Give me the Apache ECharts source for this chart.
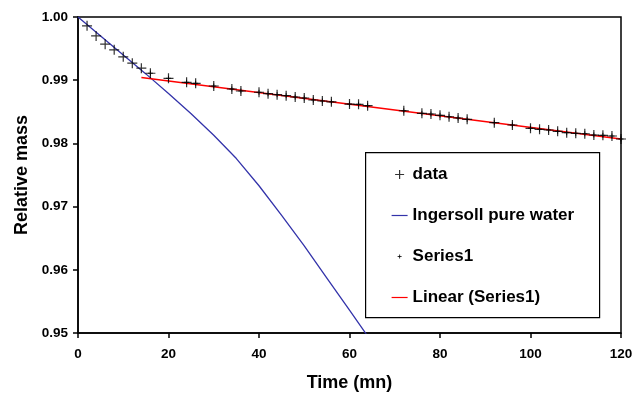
<!DOCTYPE html>
<html>
<head>
<meta charset="utf-8">
<script src="https://cdn.jsdelivr.net/npm/echarts@6/dist/echarts.min.js"></script>
<style>html,body{margin:0;padding:0;background:#fff}#c{width:641px;height:393px}</style>
</head>
<body>
<div id="c"></div>
<script>
// measured data (+ markers)
const dataTime = [2, 4, 6, 8, 10, 12, 14, 16, 20, 24, 26, 30, 34, 36, 40, 42, 44, 46, 48, 50, 52, 54, 56, 60, 62, 64, 72, 76, 78, 80, 82, 84, 86, 92, 96, 100, 102, 104, 106, 108, 110, 112, 114, 116, 118, 120];
const dataMass = [0.9986, 0.9970, 0.9957, 0.9948, 0.9937, 0.9927, 0.9919, 0.9911, 0.9903, 0.98967, 0.98951, 0.98908, 0.98861, 0.98829, 0.98809, 0.98786, 0.98771, 0.98755, 0.98734, 0.98718, 0.98687, 0.98671, 0.98658, 0.98623, 0.98619, 0.98597, 0.98517, 0.98476, 0.98465, 0.98445, 0.98422, 0.98402, 0.98381, 0.98328, 0.98291, 0.98239, 0.98223, 0.98212, 0.98191, 0.98169, 0.98160, 0.98153, 0.98133, 0.98128, 0.98117, 0.98070];
// Series1: the later part of the data (t >= 16)
const series1Start = 16;
// Ingersoll pure water curve
const ingersollTime = [0, 5, 10, 15, 20, 25, 30, 35, 40, 45, 50, 55, 60, 65];
const ingersollMass = [1.0000, 0.9970, 0.9940, 0.9910, 0.9879, 0.9847, 0.9813, 0.9776, 0.9733, 0.9686, 0.9638, 0.9587, 0.9536, 0.9485];
// Linear trend of Series1
const linearTime = [14, 120];
const linearMass = [0.99043, 0.98070];
// axes
const xTicks = [0, 20, 40, 60, 80, 100, 120];
const yTicks = [0.95, 0.96, 0.97, 0.98, 0.99, 1.00];

const pts = (xs, ys) => xs.map((x, i) => [x, ys[i]]);
const dataPts = pts(dataTime, dataMass);
const series1Pts = dataPts.filter(p => p[0] >= series1Start);

const FONT = '"Liberation Sans", Arial, sans-serif';
const plusPath = 'path://M0,5 L10,5 M5,0 L5,10';
const legendPlusBig = 'path://M0,0 M16,14 M3.5,7 L12.5,7 M8,2.5 L8,11.5';
const legendPlusSmall = 'path://M0,0 M16,14 M6,7 L10,7 M8,5 L8,9';
const legendLine = 'path://M0,0 M16,14 M0,7 L16,7';

const chart = echarts.init(document.getElementById('c'), null, {renderer: 'canvas'});
chart.setOption({
  animation: false,
  backgroundColor: '#fff',
  textStyle: {fontFamily: FONT},
  grid: {left: 78, right: 20, top: 17, bottom: 60, containLabel: false, outerBoundsMode: 'none', show: true, borderColor: '#000', borderWidth: 1.5, backgroundColor: 'transparent'},
  xAxis: {
    type: 'value', min: xTicks[0], max: xTicks[xTicks.length - 1], interval: 20,
    name: 'Time (mn)', nameLocation: 'middle', nameGap: 41,
    nameTextStyle: {fontFamily: FONT, fontWeight: 'bold', fontSize: 18, color: '#000'},
    axisLine: {show: true, lineStyle: {color: '#000', width: 1.5}},
    axisTick: {show: true, inside: false, length: 5, lineStyle: {color: '#000', width: 1.5}},
    axisLabel: {margin: 14, fontFamily: FONT, fontWeight: 'bold', fontSize: 13.5, color: '#000'},
    splitLine: {show: false}
  },
  yAxis: {
    type: 'value', min: yTicks[0], max: yTicks[yTicks.length - 1], interval: 0.01,
    name: 'Relative mass', nameLocation: 'middle', nameGap: 47,
    nameTextStyle: {fontFamily: FONT, fontWeight: 'bold', fontSize: 18, color: '#000'},
    axisLine: {show: true, lineStyle: {color: '#000', width: 1.5}},
    axisTick: {show: true, inside: false, length: 5, lineStyle: {color: '#000', width: 1.5}},
    axisLabel: {margin: 10, fontFamily: FONT, fontWeight: 'bold', fontSize: 13.5, color: '#000', formatter: v => v.toFixed(2)},
    splitLine: {show: false}
  },
  graphic: [{
    type: 'rect', left: 365, top: 152, z: 90,
    shape: {width: 234, height: 165},
    style: {fill: '#fff', stroke: '#000', lineWidth: 1.2}
  }],
  legend: {
    z: 100, orient: 'vertical', left: 391, top: 166, padding: 0,
    itemWidth: 16, itemHeight: 14, itemGap: 24,
    textStyle: {fontFamily: FONT, fontWeight: 'bold', fontSize: 17, color: '#000'},
    data: [
      {name: 'data', icon: legendPlusBig, itemStyle: {color: 'rgba(0,0,0,0)', borderColor: '#000', borderWidth: 1.2}},
      {name: 'Ingersoll pure water', icon: legendLine, itemStyle: {color: 'rgba(0,0,0,0)', borderColor: '#3333aa', borderWidth: 1.2}},
      {name: 'Series1', icon: legendPlusSmall, itemStyle: {color: 'rgba(0,0,0,0)', borderColor: '#000', borderWidth: 1}},
      {name: 'Linear (Series1)', icon: legendLine, itemStyle: {color: 'rgba(0,0,0,0)', borderColor: '#ff0000', borderWidth: 1.2}}
    ]
  },
  series: [
    {
      name: 'Ingersoll pure water', type: 'line', data: pts(ingersollTime, ingersollMass),
      symbol: 'none', smooth: false, clip: true, z: 2,
      lineStyle: {color: '#3333aa', width: 1.3}, itemStyle: {color: '#3333aa'}
    },
    {
      name: 'Linear (Series1)', type: 'line', data: pts(linearTime, linearMass),
      symbol: 'none', clip: true, z: 3,
      lineStyle: {color: '#ff0000', width: 1.4}, itemStyle: {color: '#ff0000'}
    },
    {
      name: 'data', type: 'scatter', data: dataPts, symbol: plusPath, symbolSize: 10, clip: false, z: 4,
      itemStyle: {color: 'rgba(0,0,0,0)', borderColor: '#000', borderWidth: 1.2}
    },
    {
      name: 'Series1', type: 'scatter', data: series1Pts, symbol: plusPath, symbolSize: 5, clip: false, z: 5,
      itemStyle: {color: 'rgba(0,0,0,0)', borderColor: '#000', borderWidth: 1}
    }
  ]
});
</script>
</body>
</html>
